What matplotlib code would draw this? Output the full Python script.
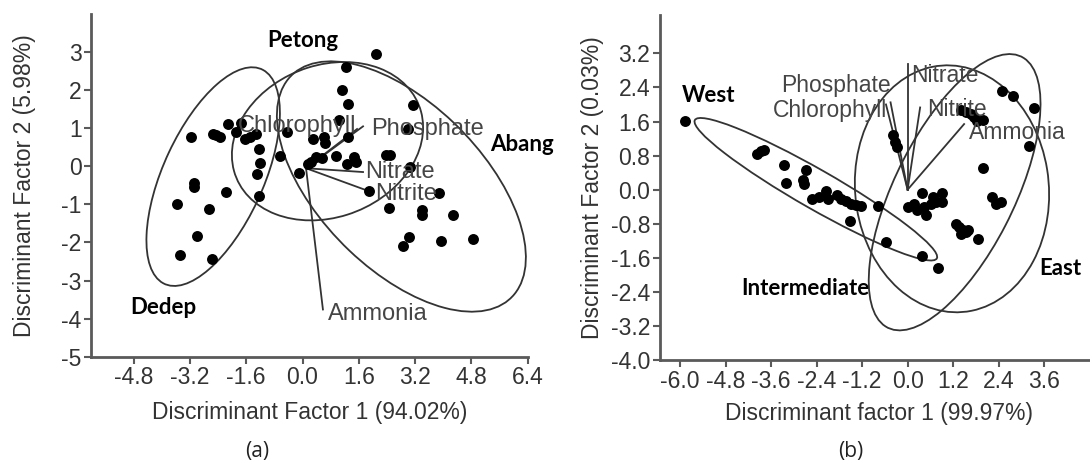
import numpy as np
import matplotlib
matplotlib.use("Agg")
import matplotlib.pyplot as plt
from matplotlib.patches import Ellipse

plt.rcParams['font.family'] = ['Liberation Sans', 'DejaVu Sans']
plt.rcParams['axes.unicode_minus'] = False

# ---------------- panel (a) data ----------------
dedep_x = [-3.16, -2.55, -2.45, -2.34, -2.12, -1.75, -1.88, -1.63, -1.49, -1.32, -1.25,
           -1.20, -1.30, -1.25, -2.17, -3.09, -3.09, -3.57, -2.65, -3.01, -3.49, -2.57]
dedep_y = [0.76, 0.84, 0.82, 0.76, 1.11, 1.13, 0.91, 0.73, 0.77, 0.84, 0.46,
           0.09, -0.21, -0.78, -0.68, -0.44, -0.55, -0.98, -1.13, -1.83, -2.32, -2.44]
petong_x = [-0.63, -0.44, -0.11, 0.30, 0.60, 0.64, 0.39, 0.24, 0.55, 0.96, 1.26,
            1.45, 1.53, 1.28, 1.05, 1.13, 1.28, 1.23, 0.15]
petong_y = [0.26, 0.91, -0.18, 0.73, 0.76, 0.60, 0.25, 0.11, 0.23, 0.26, 0.07,
            0.25, 0.11, 0.76, 1.21, 2.01, 1.64, 2.62, 0.05]
abang_x = [2.09, 3.14, 2.99, 2.38, 2.49, 3.06, 1.88, 3.88, 2.45, 3.39, 3.39,
           4.29, 3.04, 2.87, 3.94, 4.86]
abang_y = [2.94, 1.60, 0.99, 0.29, 0.29, -0.02, -0.65, -0.70, -1.09, -1.16, -1.29,
           -1.29, -1.85, -2.08, -1.97, -1.91]

# confidence ellipses: centre x, centre y, width, height, angle
ell_a_cx = [-2.54, 0.71, 2.81]
ell_a_cy = [-0.27, 0.66, -0.53]
ell_a_w = [6.28, 5.54, 8.56]
ell_a_h = [2.82, 4.02, 4.48]
ell_a_ang = [63.1, 16.3, -41.3]

# variable vectors (origin -> end) and their labels
vec_a_names = ['Chlorophyll', 'Phosphate', 'Nitrate', 'Nitrite', 'Ammonia']
vec_a_x0 = 0.1
vec_a_y0 = -0.05
vec_a_x = [1.55, 1.72, 1.72, 1.88, 0.58]
vec_a_y = [0.98, 1.05, -0.15, -0.65, -3.76]
lab_a_x = [1.52, 1.95, 1.77, 2.07, 0.73]
lab_a_y = [1.06, 0.97, -0.15, -0.72, -3.89]
lab_a_ha = ['right', 'left', 'left', 'left', 'left']

sites_a = ['Petong', 'Abang', 'Dedep']
sites_a_x = [0.0, 5.34, -4.91]
sites_a_y = [3.30, 0.58, -3.71]
sites_a_ha = ['center', 'left', 'left']

# ---------------- panel (b) data ----------------
west_x = [-5.88]
west_y = [1.62]
inter_x = [-3.96, -3.87, -3.78, -3.27, -3.21, -2.67, -2.75, -2.73, -2.53, -2.33, -2.16,
           -2.11, -1.85, -1.76, -1.63, -1.50, -1.37, -1.22, -1.52, -0.77, -0.56, 0.39, 0.79]
inter_y = [0.84, 0.90, 0.92, 0.58, 0.16, 0.45, 0.23, 0.14, -0.23, -0.17, -0.02,
           -0.21, -0.13, -0.21, -0.27, -0.33, -0.37, -0.38, -0.74, -0.39, -1.24, -1.56, -1.85]
east_x = [-0.38, -0.34, -0.28, 2.50, 2.79, 3.34, 3.19, 1.98, 1.40, 1.53, 1.67, 1.75,
          1.84, 2.00, 0.39, 0.66, 0.92, 0.92, 0.74, 0.61, 0.44, 0.17, 0.00, 0.48, 0.26,
          2.22, 2.33, 2.46, 1.27, 1.36, 1.45, 1.53, 1.58, 1.40, 1.86]
east_y = [1.29, 1.11, 0.99, 2.31, 2.21, 1.92, 1.03, 0.51, 1.86, 1.82, 1.78, 1.70,
          1.62, 1.64, -0.09, -0.17, -0.09, -0.29, -0.29, -0.33, -0.41, -0.34, -0.41, -0.60, -0.47,
          -0.17, -0.33, -0.29, -0.80, -0.87, -0.95, -0.99, -0.94, -1.03, -1.16]

ell_b_cx = [-2.42, 1.17, 1.24]
ell_b_cy = [0.01, 0.02, -0.06]
ell_b_w = [7.16, 5.82, 7.28]
ell_b_h = [0.94, 5.10, 3.10]
ell_b_ang = [-26.9, -79.7, 59.9]

vec_b_names = ['Phosphate', 'Chlorophyll', 'Nitrate', 'Nitrite', 'Ammonia']
vec_b_x0 = 0.0
vec_b_y0 = 0.0
vec_b_x = [-0.45, -0.57, 0.0, 0.33, 1.49]
vec_b_y = [2.05, 2.00, 2.95, 1.93, 1.54]
lab_b_x = [-0.44, -0.53, 0.08, 0.52, 1.62]
lab_b_y = [2.44, 1.86, 2.68, 1.88, 1.35]
lab_b_ha = ['right', 'right', 'left', 'left', 'left']

sites_b = ['West', 'Intermediate', 'East']
sites_b_x = [-5.96, -4.40, 3.47]
sites_b_y = [2.20, -2.32, -1.85]

# ---------------- drawing ----------------
fig = plt.figure(figsize=(10.9, 4.7), dpi=100)
ax1 = fig.add_axes([0.0839, 0.2411, 0.4002, 0.729])
ax2 = fig.add_axes([0.6055, 0.234, 0.3945, 0.734])

LINE = '#333333'
TXT = '#454545'
BOLD = ['Lato', 'DejaVu Sans']


def style_axes(ax):
    for s in ['top', 'right']:
        ax.spines[s].set_visible(False)
    for s in ['left', 'bottom']:
        ax.spines[s].set_color('#5a5a5a')
        ax.spines[s].set_linewidth(2.0)
    ax.tick_params(direction='out', length=5, width=1.5, color='#5a5a5a',
                   labelsize=16.5, labelcolor='#333333', pad=2)


# (a)
for cx, cy, w, h, a in zip(ell_a_cx, ell_a_cy, ell_a_w, ell_a_h, ell_a_ang):
    ax1.add_patch(Ellipse((cx, cy), w, h, angle=a, fill=False, ec=LINE, lw=1.3))
for x, y in zip(vec_a_x, vec_a_y):
    ax1.plot([vec_a_x0, x], [vec_a_y0, y], color=LINE, lw=1.3)
for xs, ys in [(dedep_x, dedep_y), (petong_x, petong_y), (abang_x, abang_y)]:
    ax1.scatter(xs, ys, s=62, color='black', zorder=3, linewidths=0)
for name, x, y, ha in zip(vec_a_names, lab_a_x, lab_a_y, lab_a_ha):
    ax1.text(x, y, name, ha=ha, va='center', fontsize=17, color=TXT, zorder=4)
for name, x, y, ha in zip(sites_a, sites_a_x, sites_a_y, sites_a_ha):
    ax1.text(x, y, name, ha=ha, va='center', fontsize=16, fontweight='bold',
             family=BOLD, color='black', clip_on=False)

ax1.set_xlim(-6.0, 6.4)
ax1.set_ylim(-5, 4)
xt1 = np.round(np.arange(-4.8, 6.5, 1.6), 1) + 0.0
ax1.set_xticks(xt1)
ax1.set_xticklabels([f'{v:.1f}' for v in xt1])
ax1.set_yticks(np.arange(-5, 4, 1))
style_axes(ax1)
ax1.set_xlabel('Discriminant Factor 1 (94.02%)', fontsize=16.5, color='#333333', va='center')
ax1.xaxis.set_label_coords(0.501, -0.164)
ax1.set_ylabel('Discriminant Factor 2 (5.98%)', fontsize=16.5, color='#333333', va='center')
ax1.yaxis.set_label_coords(-0.154, 0.50)

# (b)
for cx, cy, w, h, a in zip(ell_b_cx, ell_b_cy, ell_b_w, ell_b_h, ell_b_ang):
    ax2.add_patch(Ellipse((cx, cy), w, h, angle=a, fill=False, ec=LINE, lw=1.3))
for x, y in zip(vec_b_x, vec_b_y):
    ax2.plot([vec_b_x0, x], [vec_b_y0, y], color=LINE, lw=1.3)
for xs, ys in [(west_x, west_y), (inter_x, inter_y), (east_x, east_y)]:
    ax2.scatter(xs, ys, s=62, color='black', zorder=3, linewidths=0)
for name, x, y, ha in zip(vec_b_names, lab_b_x, lab_b_y, lab_b_ha):
    ax2.text(x, y, name, ha=ha, va='center', fontsize=16.5, color=TXT, zorder=4)
for name, x, y in zip(sites_b, sites_b_x, sites_b_y):
    ax2.text(x, y, name, ha='left', va='center', fontsize=16, fontweight='bold',
             family=BOLD, color='black')

ax2.set_xlim(-6.53, 4.81)
ax2.set_ylim(-4.0, 4.1)
xt2 = np.round(np.arange(-6.0, 3.7, 1.2), 1) + 0.0
ax2.set_xticks(xt2)
ax2.set_xticklabels([f'{v:.1f}' for v in xt2])
yt2 = np.round(np.arange(-4.0, 3.3, 0.8), 1) + 0.0
ax2.set_yticks(yt2)
ax2.set_yticklabels([f'{v:.1f}' for v in yt2])
style_axes(ax2)
ax2.set_xlabel('Discriminant factor 1 (99.97%)', fontsize=16.5, color='#333333', va='center')
ax2.xaxis.set_label_coords(0.509, -0.154)
ax2.set_ylabel('Discriminant Factor 2 (0.03%)', fontsize=16.5, color='#333333', va='center')
ax2.yaxis.set_label_coords(-0.158, 0.50)

fig.text(257 / 1090, 1 - 452 / 470, '(a)', ha='center', va='center', fontsize=15,
         family=['Open Sans', 'DejaVu Sans'], color='#222222')
fig.text(851 / 1090, 1 - 452 / 470, '(b)', ha='center', va='center', fontsize=15,
         family=['Open Sans', 'DejaVu Sans'], color='#222222')

fig.savefig('out.png', dpi=100)
